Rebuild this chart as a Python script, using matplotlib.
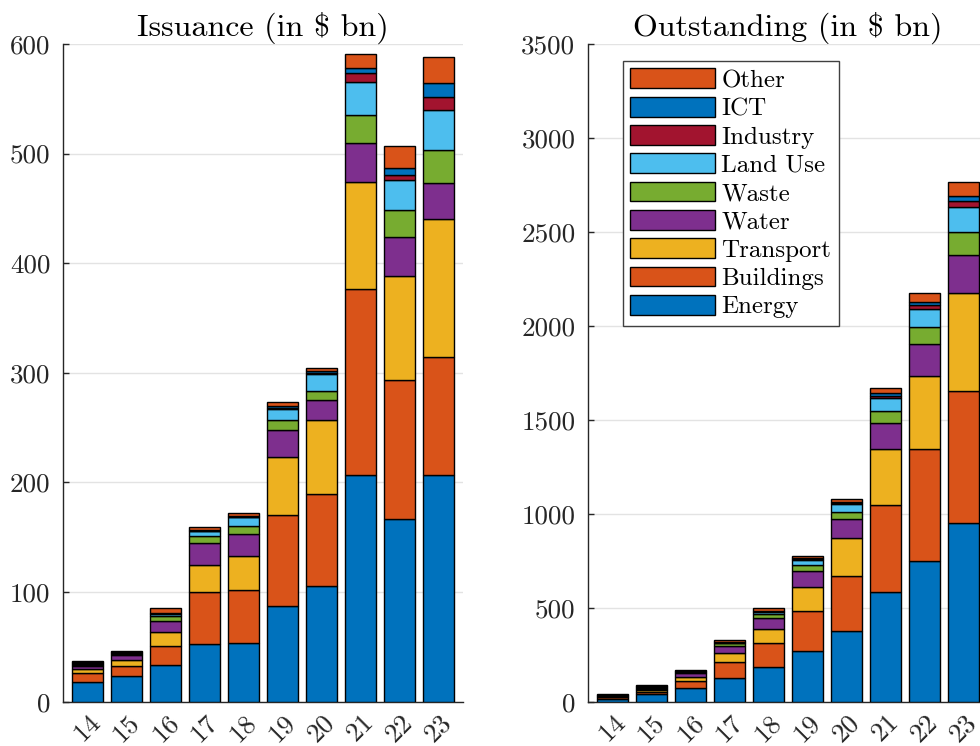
import matplotlib
matplotlib.use("Agg")
import matplotlib.pyplot as plt
import numpy as np

plt.rcParams['font.family'] = ['cmr10', 'DejaVu Serif']
plt.rcParams['mathtext.fontset'] = 'cm'
plt.rcParams['axes.unicode_minus'] = False
plt.rcParams['axes.formatter.use_mathtext'] = True

years = [14, 15, 16, 17, 18, 19, 20, 21, 22, 23]
categories = ["Energy", "Buildings", "Transport", "Water", "Waste",
              "Land Use", "Industry", "ICT", "Other"]
colors = ["#0072BD", "#D95319", "#EDB120", "#7E2F8E", "#77AC30",
          "#4DBEEE", "#A2142F", "#0072BD", "#D95319"]

# Issuance (in $ bn), per category, per year 2014..2023
iss_energy    = [18.3, 23.7, 33.5, 52.9, 53.5, 87.6, 105.3, 206.5, 166.4, 206.5]
iss_buildings = [7.6, 8.5, 17.6, 47.5, 48.7, 82.4, 84.2, 169.7, 126.8, 107.6]
iss_transport = [3.7, 6.1, 12.8, 24.0, 30.5, 52.9, 67.5, 97.6, 95.4, 126.5]
iss_water     = [2.9, 4.0, 10.0, 20.1, 20.3, 25.0, 18.5, 35.9, 35.0, 32.6]
iss_waste     = [1.0, 1.0, 4.6, 6.5, 7.6, 9.4, 7.6, 25.3, 24.6, 29.8]
iss_landuse   = [1.0, 0.9, 1.5, 4.4, 7.6, 9.4, 15.5, 30.1, 27.4, 37.1]
iss_industry  = [0.8, 0.8, 0.5, 0.6, 0.6, 1.6, 1.5, 8.4, 4.6, 11.3]
iss_ict       = [0.9, 0.7, 0.5, 0.6, 0.6, 1.5, 1.6, 4.9, 6.9, 13.4]
iss_other     = [1.2, 0.8, 4.2, 3.0, 3.2, 3.6, 3.0, 12.2, 19.8, 23.1]

# Outstanding (in $ bn)
out_energy    = [16, 40, 74.6, 127.7, 183, 269.8, 376.2, 582.2, 748.8, 952.6]
out_buildings = [7, 12, 33.4, 82, 127.8, 212.9, 294.3, 464.6, 594.2, 700.9]
out_transport = [4, 10, 23, 47.9, 77.7, 127.7, 198.9, 298, 391.9, 519.8]
out_water     = [4, 8, 20, 38.8, 58.5, 85.2, 101.2, 136.6, 167, 203.9]
out_waste     = [2, 4, 7, 14.4, 18, 30.3, 38.9, 65.5, 90.4, 120.6]
out_landuse   = [2, 4, 4, 3.2, 12, 28.1, 40.9, 67.6, 99.1, 134.2]
out_industry  = [2, 3, 2, 2, 4, 6, 4.6, 13.4, 17.6, 32]
out_ict       = [1, 2, 2, 2, 2, 5, 6, 13, 16.4, 26]
out_other     = [2, 4, 3.5, 10.3, 17, 10.4, 17.7, 27, 51.2, 74]

issuance = [iss_energy, iss_buildings, iss_transport, iss_water, iss_waste,
            iss_landuse, iss_industry, iss_ict, iss_other]
outstanding = [out_energy, out_buildings, out_transport, out_water, out_waste,
               out_landuse, out_industry, out_ict, out_other]

W, H = 980, 746
fig = plt.figure(figsize=(W / 100, H / 100), dpi=100)

ax_l = fig.add_axes([63 / W, (H - 701.7) / H, 400 / W, 657.7 / H])
ax_r = fig.add_axes([588 / W, (H - 701.7) / H, 400 / W, 657.7 / H])

txt_col = "#262626"

def draw(ax, data, title, ymax, step):
    bottom = np.zeros(len(years))
    handles = []
    for cat, vals, col in zip(categories, data, colors):
        b = ax.bar(years, vals, width=0.8, bottom=bottom, color=col,
                   edgecolor="black", linewidth=1.0, label=cat, zorder=3)
        handles.append(b)
        bottom = bottom + np.array(vals)
    ax.set_xlim(13.37, 23.63)
    ax.set_ylim(0, ymax)
    yt = np.arange(0, ymax + 1, step)
    ax.set_yticks(yt)
    ax.set_yticklabels([str(int(v)) for v in yt])
    ax.set_xticks(years)
    ax.set_xticklabels([str(y) for y in years], rotation=45, ha='center')
    ax.grid(axis='y', color="#e3e3e3", linewidth=1.0, zorder=0)
    ax.set_axisbelow(True)
    for s in ['top', 'right']:
        ax.spines[s].set_visible(False)
    for s in ['left', 'bottom']:
        ax.spines[s].set_color(txt_col)
        ax.spines[s].set_linewidth(1.0)
    ax.tick_params(axis='both', direction='in', length=4, width=1.0,
                   colors=txt_col, labelsize=19.5, labelcolor=txt_col)
    ax.tick_params(axis='y', pad=9)
    ax.tick_params(axis='x', pad=6)
    ax.set_title(title, fontsize=23, color="black", pad=6)
    return handles

draw(ax_l, issuance, "Issuance (in \\$ bn)", 600, 100)
hs = draw(ax_r, outstanding, "Outstanding (in \\$ bn)", 3500, 500)

leg = ax_r.legend(hs[::-1], categories[::-1], loc='upper left',
                  bbox_to_anchor=(34.7 / 400, 1 - 17 / 657.7),
                  borderaxespad=0, fontsize=18, frameon=True,
                  fancybox=False, framealpha=1, edgecolor="#404040",
                  handlelength=3.4, handleheight=0.84, handletextpad=0.25,
                  labelspacing=0.19, borderpad=0.3)
leg.get_frame().set_linewidth(1.0)

fig.savefig("out.png", dpi=100)
